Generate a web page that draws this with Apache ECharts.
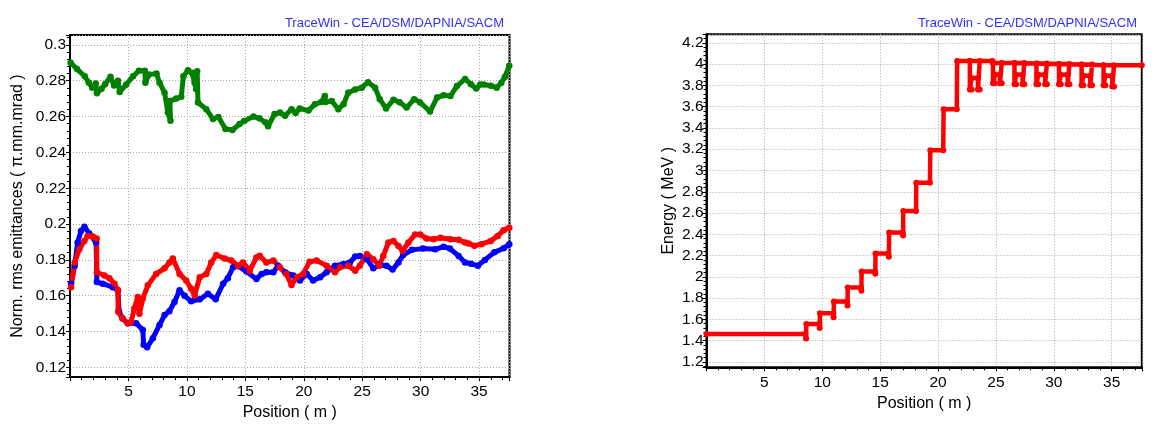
<!DOCTYPE html>
<html><head><meta charset="utf-8">
<script src="https://cdn.jsdelivr.net/npm/echarts@6/dist/echarts.min.js"></script>
<style>html,body{margin:0;padding:0;background:#fff}#c{width:1152px;height:426px}</style>
</head><body><div id="c"></div><script>
// ---- data ----
const titleText = 'TraceWin - CEA/DSM/DAPNIA/SACM';
const greenX = [0.05,0.6,1.26,1.6,1.9,2.2,2.3,2.7,3.0,3.46,3.77,4.1,4.25,4.8,5.4,5.9,6.4,6.45,6.76,7.4,7.66,8.09,8.37,8.6,8.55,9.09,9.52,9.7,10.09,10.43,10.66,10.8,10.88,10.95,11.66,12.23,12.7,13.3,13.9,14.5,14.9,15.7,16.2,16.7,16.95,17.5,17.96,18.4,18.95,19.3,19.65,20.4,20.95,21.5,21.8,21.85,22.4,22.95,23.4,23.8,24.4,24.96,25.5,26.1,26.5,27.04,27.67,28.2,28.8,29.44,29.95,30.8,31.4,31.97,32.55,33.1,33.8,34.3,34.75,35.1,35.4,36.0,36.5,36.9,37.2,37.58];
const greenY = [0.290,0.2865,0.2825,0.279,0.276,0.2785,0.273,0.2755,0.278,0.2822,0.2773,0.280,0.2737,0.2778,0.2825,0.2856,0.2856,0.2788,0.2834,0.284,0.2789,0.2733,0.2623,0.2577,0.2687,0.270,0.2711,0.2825,0.2858,0.2844,0.2789,0.2752,0.2853,0.2678,0.2641,0.2586,0.2598,0.2531,0.2525,0.2558,0.2575,0.260,0.259,0.2568,0.2546,0.2614,0.2622,0.2605,0.2641,0.262,0.2645,0.2633,0.2669,0.2681,0.2715,0.2681,0.2687,0.2641,0.2669,0.2733,0.2751,0.2761,0.2792,0.2761,0.2697,0.2645,0.2693,0.268,0.265,0.2697,0.2679,0.2628,0.2706,0.2719,0.2715,0.277,0.281,0.278,0.2756,0.2779,0.2779,0.2772,0.2761,0.2789,0.282,0.2884];
const blueX = [0.09,0.4,0.65,0.94,1.23,1.65,2.23,2.3,2.8,3.66,4.1,4.2,4.5,4.94,5.66,6.23,6.3,6.6,7.09,7.66,8.09,8.5,8.94,9.37,9.8,10.37,11.1,11.8,12.46,13.1,13.5,13.95,14.4,15.1,15.95,16.4,16.8,17.4,17.8,18.4,19.1,19.67,20.25,20.8,21.4,21.95,22.67,23.4,23.95,24.4,24.8,25.4,25.95,26.5,27.07,27.6,28.1,28.5,29.25,30.2,31.25,31.96,32.5,33.25,33.8,34.3,34.9,35.5,36.3,37.1,37.58];
const blueY = [0.1667,0.1768,0.1897,0.1961,0.1985,0.1948,0.1897,0.1676,0.1667,0.1648,0.163,0.151,0.1473,0.1446,0.1446,0.1409,0.1327,0.1312,0.1363,0.1437,0.1492,0.1514,0.1565,0.163,0.160,0.1569,0.158,0.1611,0.158,0.1667,0.1698,0.1759,0.1765,0.1735,0.1694,0.1722,0.1731,0.1731,0.1768,0.1731,0.1713,0.1685,0.1722,0.1685,0.1703,0.1731,0.1768,0.1777,0.1786,0.1819,0.1822,0.1804,0.1753,0.1771,0.1768,0.1746,0.1786,0.1827,0.1856,0.1863,0.1859,0.1874,0.1863,0.1822,0.1786,0.1778,0.1768,0.18,0.1842,0.1865,0.1888];
const redX = [0.09,0.4,0.8,1.23,1.51,1.94,2.28,2.3,2.94,3.37,3.8,4.1,4.12,4.5,4.94,5.23,5.5,5.8,5.94,6.23,6.66,7.37,8.09,8.52,8.8,9.37,9.94,10.37,10.66,11.1,11.66,12.09,12.52,13.23,13.8,14.37,14.8,15.38,15.95,16.23,16.8,17.4,17.95,18.5,18.95,19.4,19.95,20.5,21.1,21.95,22.67,23.1,23.8,24.4,24.8,25.4,25.95,26.46,26.8,27.24,27.67,28.1,28.46,28.95,29.53,29.95,30.5,31.1,31.7,32.55,33.25,33.8,34.1,34.6,35.2,36.0,36.6,37.1,37.58];
const redY = [0.1648,0.1786,0.186,0.1906,0.1933,0.193,0.1919,0.1731,0.1713,0.1698,0.1667,0.163,0.151,0.1473,0.1446,0.1455,0.1529,0.1593,0.15,0.1584,0.1658,0.1722,0.1753,0.1786,0.1808,0.1722,0.1685,0.1639,0.1602,0.1703,0.1722,0.1786,0.1827,0.1808,0.1796,0.1768,0.1786,0.174,0.1814,0.1823,0.1786,0.1796,0.1759,0.1722,0.166,0.1703,0.1722,0.179,0.1796,0.1768,0.1731,0.1759,0.1768,0.174,0.1768,0.1832,0.1804,0.1768,0.1822,0.1897,0.1906,0.1878,0.185,0.1897,0.1942,0.1942,0.1919,0.1915,0.1924,0.1915,0.1912,0.1897,0.1892,0.1879,0.1888,0.1906,0.1934,0.1966,0.198];
const energyX = [0,8.55,8.6,8.62,9.75,9.78,9.8,10.95,10.98,11.0,12.15,12.18,12.2,13.35,13.38,13.4,14.55,14.58,14.6,15.72,15.75,15.78,16.95,16.98,17.0,18.1,18.12,19.3,19.33,20.45,20.48,21.62,21.65,
  22.75,22.75,22.9,22.9,23.45,23.45,23.6,23.6,22.75,24.7,
  24.75,24.75,24.9,24.9,25.35,25.35,25.5,25.5,24.75,
  26.6,26.6,26.75,26.75,27.3,27.3,27.45,27.45,26.6,
  28.5,28.5,28.65,28.65,29.25,29.25,29.4,29.4,28.5,
  30.45,30.45,30.6,30.6,31.2,31.2,31.35,31.35,30.45,
  32.4,32.4,32.55,32.55,33.15,33.15,33.3,33.3,32.4,
  34.3,34.3,34.45,34.45,35.05,35.05,35.2,35.2,34.3,37.6];
const energyY = [1.463,1.463,1.42,1.556,1.556,1.52,1.659,1.659,1.62,1.768,1.768,1.73,1.90,1.90,1.87,2.05,2.05,2.03,2.219,2.219,2.19,2.416,2.416,2.39,2.62,2.62,2.885,2.885,3.19,3.19,3.575,3.575,4.03,
  4.03,3.76,3.76,3.87,3.87,3.76,3.76,4.03,4.03,4.03,
  4.01,3.82,3.82,3.9,3.9,3.82,3.82,4.01,4.01,
  4.01,3.81,3.81,3.9,3.9,3.81,3.81,4.01,4.01,
  4.005,3.81,3.81,3.9,3.9,3.81,3.81,4.005,4.005,
  4.0,3.81,3.81,3.9,3.9,3.81,3.81,4.0,4.0,
  3.995,3.80,3.80,3.89,3.89,3.80,3.80,3.995,3.995,
  3.99,3.80,3.80,3.89,3.89,3.79,3.79,3.99,3.99,3.99];
const xName = 'Position ( m )';
const yNameLeft = 'Norm. rms emittances ( π.mm.mrad )';
const yNameRight = 'Energy ( MeV )';

// ---- chart ----
const zip = (xs, ys) => xs.map((x, i) => [x, ys[i]]);
const FONT = '"Liberation Sans", Arial, sans-serif';
const isMult = (v, step) => Math.abs(v / step - Math.round(v / step)) < 1e-6;

function xAxis(gridIndex) {
  return {
    type: 'value', gridIndex, min: 0, max: 37.6, minInterval: 5, maxInterval: 5,
    name: xName, nameLocation: 'middle', nameGap: 25,
    nameTextStyle: { fontFamily: FONT, fontSize: 16, color: '#000' },
    axisLine: { show: true, lineStyle: { color: '#000', width: 2 } },
    axisTick: { show: true, length: 4, lineStyle: { color: '#000' } },
    minorTick: { show: true, splitNumber: 5, length: 3, lineStyle: { color: '#000' } },
    axisLabel: { fontFamily: FONT, fontSize: 15.5, color: '#000', margin: 7,
      formatter: v => (v > 0.01 && isMult(v, 5)) ? String(v) : '' },
    splitLine: { show: true, lineStyle: { type: [1, 2], color: '#a8a8a8', width: 1 } }
  };
}
function yAxis(gridIndex, min, max, step, name, gap, margin) {
  return {
    type: 'value', gridIndex, min, max, minInterval: step, maxInterval: step,
    name, nameLocation: 'middle', nameGap: gap,
    nameTextStyle: { fontFamily: FONT, fontSize: 16, color: '#000' },
    axisLine: { show: true, lineStyle: { color: '#000', width: 2 } },
    axisTick: { show: true, length: 4, lineStyle: { color: '#000' } },
    minorTick: { show: true, splitNumber: 5, length: 3, lineStyle: { color: '#000' } },
    axisLabel: { fontFamily: FONT, fontSize: 15.5, color: '#000', margin,
      formatter: v => isMult(v, step) ? String(+v.toFixed(4)) : '',
      showMinLabel: true, showMaxLabel: true },
    splitLine: { show: true, lineStyle: { type: [1, 2], color: '#a8a8a8', width: 1 } }
  };
}
function lineSeries(data, color, xi, yi, lw) {
  return {
    type: 'line', xAxisIndex: xi, yAxisIndex: yi, data,
    symbol: 'circle', symbolSize: lw + 1.5, showSymbol: true, showAllSymbol: true,
    lineStyle: { color, width: lw, cap: 'round', join: 'round' }, itemStyle: { color }, clip: true, animation: false
  };
}

const chart = echarts.init(document.getElementById('c'), null, { renderer: 'canvas' });
chart.setOption({
  animation: false,
  backgroundColor: '#fff',
  title: [
    { text: titleText, right: 643, top: 12, textStyle: { fontFamily: FONT, fontSize: 13, fontWeight: 'normal', color: '#3030ff' } },
    { text: titleText, right: 10, top: 12, textStyle: { fontFamily: FONT, fontSize: 13, fontWeight: 'normal', color: '#3030ff' } }
  ],
  grid: [
    { left: 70, right: 642.5, top: 35, bottom: 45.3, show: true, borderColor: '#000', borderWidth: 2, backgroundColor: '#fff' },
    { left: 706.5, right: 10.2, top: 34.3, bottom: 58.7, show: true, borderColor: '#000', borderWidth: 2, backgroundColor: '#fff' }
  ],
  xAxis: [xAxis(0), xAxis(1)],
  yAxis: [
    yAxis(0, 0.1146, 0.3055, 0.02, yNameLeft, 44, 4),
    yAxis(1, 1.15, 4.28, 0.2, yNameRight, 30, 3)
  ],
  series: [
    lineSeries(zip(greenX, greenY), '#008000', 0, 0, 5),
    lineSeries(zip(blueX, blueY), '#0000ff', 0, 0, 5),
    lineSeries(zip(redX, redY), '#ff0000', 0, 0, 5),
    lineSeries(zip(energyX, energyY), '#ff0000', 1, 1, 4.5)
  ]
});
</script></body></html>
